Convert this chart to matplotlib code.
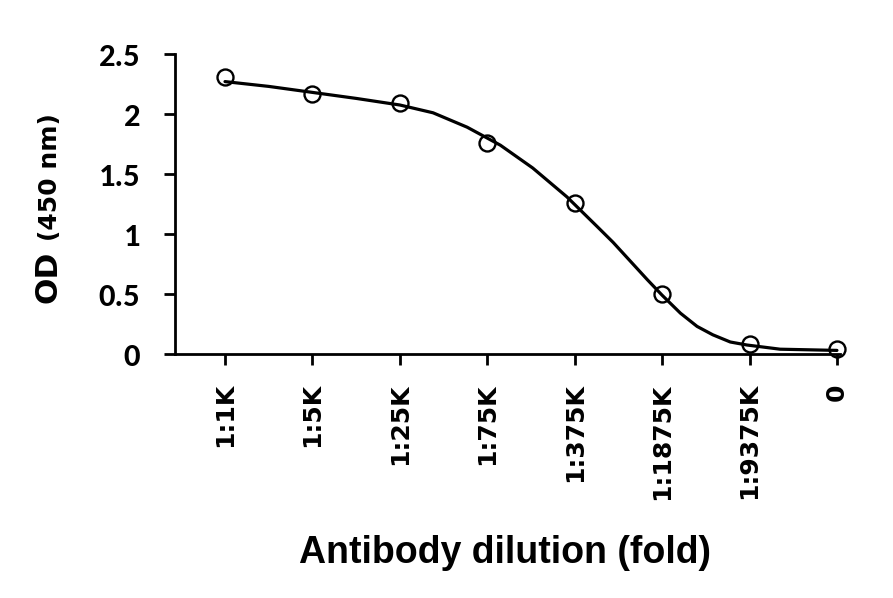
import matplotlib.pyplot as plt

# Dilution labels and measured OD values
dilutions = ['1:1K', '1:5K', '1:25K', '1:75K', '1:375K', '1:1875K', '1:9375K', '0']
od_values = [2.31, 2.17, 2.09, 1.76, 1.26, 0.50, 0.08, 0.04]
od_ticks = [0, 0.5, 1, 1.5, 2, 2.5]
od_tick_labels = ['0', '0.5', '1', '1.5', '2', '2.5']

# Fitted curve (position in category units, OD)
curve_pos = [0, 0.5, 1.0, 1.5, 2.0, 2.38, 2.77, 3.15, 3.52, 3.91, 4.26,
             4.44, 4.83, 5.0, 5.21, 5.40, 5.58, 5.78, 5.97, 6.35, 7.0]
curve_od = [2.27, 2.23, 2.18, 2.13, 2.075, 2.01, 1.89, 1.74, 1.55, 1.31, 1.06,
            0.93, 0.62, 0.49, 0.34, 0.23, 0.16, 0.10, 0.075, 0.04, 0.03]

W, H = 893, 598
fig = plt.figure(figsize=(W / 100, H / 100), dpi=100)
ax = fig.add_axes([175 / W, 1 - 354 / H, (840 - 175) / W, 300 / H])

ax.plot(curve_pos, curve_od, color='black', lw=2.3, solid_joinstyle='round',
        solid_capstyle='round')
ax.plot(range(len(od_values)), od_values, linestyle='none', marker='o',
        markersize=11.5, markerfacecolor='none', markeredgecolor='black',
        markeredgewidth=1.7, clip_on=False, zorder=3)

ax.set_xlim(-0.572, 7.035)
ax.set_ylim(0, 2.5)
ax.set_yticks(od_ticks)
ax.set_yticklabels(od_tick_labels)
ax.set_xticks(range(len(dilutions)))
ax.set_xticklabels(dilutions, rotation=90)

for side in ['top', 'right']:
    ax.spines[side].set_visible(False)
for side in ['left', 'bottom']:
    ax.spines[side].set_linewidth(2)
ax.tick_params(axis='y', direction='out', length=8, width=2, pad=17,
               labelsize=23.5)
ax.tick_params(axis='x', direction='out', length=8, width=2, pad=13,
               labelsize=18)
for lab in ax.get_yticklabels():
    lab.set_family('Carlito')
    lab.set_weight('bold')
for lab in ax.get_xticklabels():
    lab.set_family('DejaVu Sans')
    lab.set_weight('bold')

# y label in two sizes, sharing one baseline
fig.text(57 / W, 1 - 303 / H, 'OD', rotation=90, rotation_mode='anchor',
         ha='left', va='baseline', family='DejaVu Sans', weight='bold',
         size=22.5)
fig.text(57 / W, 1 - 241 / H, '(450 nm)', rotation=90, rotation_mode='anchor',
         ha='left', va='baseline', family='DejaVu Sans', weight='bold',
         size=18)

fig.text(505 / W, 1 - 563 / H, 'Antibody dilution (fold)', ha='center',
         va='baseline', family='Liberation Sans', weight='bold', size=27)

fig.savefig('out.png', dpi=100, facecolor='white')
